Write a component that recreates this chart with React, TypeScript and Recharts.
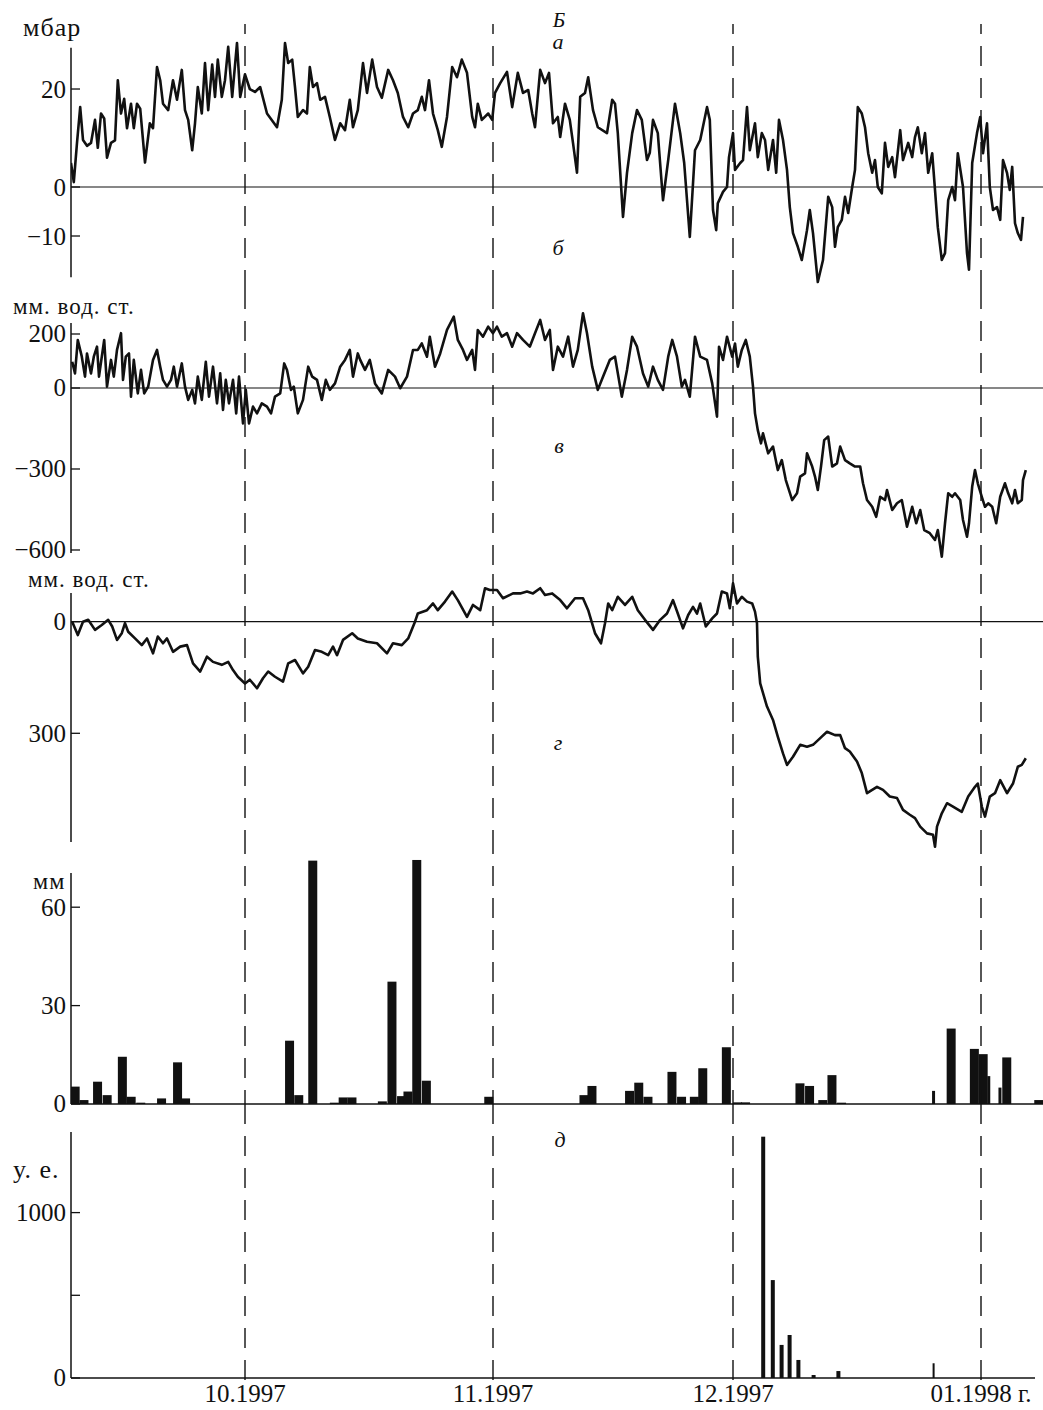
import React from "react";
import { LineChart, Line, BarChart, Bar, XAxis, YAxis, ReferenceLine } from "recharts";

// time axis: days from 1 Oct 1997
const X_MIN = -21.75;
const X_MAX = 99.75;
const monthTicks = [0, 31, 61, 92];
const monthLabels = ["10.1997", "11.1997", "12.1997", "01.1998 г."];

// а — atmospheric pressure, mbar
const pressure: [number, number][] = [
  [-21.75, 4.9], [-21.4, 1], [-21, 9], [-20.6, 16.3], [-20.25, 9.6], [-19.75, 8.4], [-19.25, 9], [-18.75, 13.7], [-18.4, 8], [-18, 15],
  [-17.6, 14], [-17.25, 6], [-16.75, 9], [-16.25, 9.5], [-15.9, 21.8], [-15.5, 15], [-15.1, 18], [-14.75, 12], [-14.25, 17], [-13.9, 12],
  [-13.5, 17], [-13.1, 16], [-12.5, 5], [-11.9, 13], [-11.5, 12], [-11, 24.5], [-10.6, 21.8], [-10.25, 17], [-9.6, 15.7], [-9, 21.8],
  [-8.5, 17.8], [-7.9, 23.9], [-7.5, 15.7], [-7.1, 13.7], [-6.6, 7.5], [-6.25, 13], [-5.9, 20.4], [-5.4, 15], [-5, 25.3], [-4.6, 15.7],
  [-4.1, 25], [-3.75, 18.4], [-3.4, 26], [-2.9, 18.4], [-2.5, 21.8], [-2.1, 28.6], [-1.6, 18.4], [-1, 29.4], [-0.6, 18.4], [0, 23],
  [0.6, 20], [1.25, 19.4], [1.9, 20.4], [2.75, 15], [4, 12.2], [4.6, 17.8], [5, 29.4], [5.4, 25.3], [5.9, 26], [6.25, 20.4],
  [6.6, 14.3], [7.25, 15.7], [7.75, 15], [8.1, 24.5], [8.5, 20.4], [9, 21.2], [9.4, 17.8], [10, 18.4], [10.6, 14.3], [11.25, 9.6],
  [11.9, 13], [12.5, 11.6], [13.1, 17.8], [13.5, 12.2], [14.1, 15.7], [14.75, 25.3], [15.25, 19.2], [15.9, 26], [16.5, 20.4], [17.1, 18.2],
  [17.9, 23.9], [18.5, 21.8], [19.1, 19.2], [19.75, 14.3], [20.4, 12.2], [21, 15], [21.6, 15.7], [22.1, 18.4], [22.5, 15.7], [23, 21.8],
  [23.5, 15], [24.1, 11.6], [24.6, 8.2], [25.25, 14.3], [25.9, 24.5], [26.5, 22.4], [27.1, 26], [27.75, 23.3], [28.4, 14.3], [28.75, 12.2],
  [29.1, 17], [29.6, 13.7], [30.4, 15], [30.9, 13.7], [31.25, 19.2], [31.9, 21.2], [32.75, 23.5], [33.4, 16.3], [34.1, 23.3], [34.75, 19.2],
  [35.4, 19.8], [35.9, 15], [36.25, 12.2], [36.9, 23.9], [37.5, 21.2], [38, 23.3], [38.5, 13], [39.1, 14.3], [39.4, 10.2], [40, 17],
  [40.6, 13.7], [41, 9], [41.5, 2.9], [41.9, 18.4], [42.5, 19.2], [42.9, 22.4], [43.5, 15.7], [44.1, 12.2], [45.25, 11], [45.9, 17.8],
  [46.25, 17], [46.6, 11], [47.25, -6.1], [47.75, 2.9], [48.4, 11], [49, 15.7], [49.6, 13.7], [50.25, 5.5], [50.6, 7], [51, 13.7],
  [51.6, 11], [52.25, -2.7], [52.9, 5.5], [53.75, 17], [54.4, 11], [54.9, 4.9], [55.6, -10.2], [56.25, 7.5], [56.9, 9.6], [57.75, 16.3],
  [58.1, 13.7], [58.5, -4.7], [58.9, -8.8], [59.1, -3.3], [59.75, -1], [60.25, 0], [60.5, 6.1], [61, 11], [61.25, 3.5], [61.9, 4.9],
  [62.25, 5.5], [62.75, 16.3], [63.1, 7.5], [63.75, 13], [64.1, 6.1], [64.6, 11], [65, 9.6], [65.4, 3.5], [66, 9.6], [66.4, 2.9],
  [66.75, 13.7], [67.25, 9.6], [67.75, 3.5], [68.1, -4.1], [68.5, -9.4], [69.1, -12.2], [69.6, -14.9], [70.25, -8.8], [70.6, -4.7], [71, -9.4],
  [71.6, -19.4], [72.25, -14.9], [72.9, -2], [73.4, -4.1], [73.75, -12.2], [74.1, -8.2], [74.6, -6.7], [75, -2], [75.4, -5.3], [75.9, 0],
  [76.25, 3.5], [76.6, 16.3], [77.1, 15], [77.5, 12.2], [77.9, 6.9], [78.4, 2.9], [78.75, 5.5], [79.1, 0], [79.6, -1.3], [80, 9],
  [80.4, 4.1], [80.9, 6.1], [81.25, 2], [81.9, 11.6], [82.25, 5.5], [82.9, 9], [83.4, 6.1], [83.75, 10.2], [84.1, 12.2], [84.6, 6.9],
  [85, 11], [85.4, 2.9], [85.9, 6.9], [86.25, -0.6], [86.6, -8.2], [87.1, -14.9], [87.5, -13.5], [87.9, -2.7], [88.4, 0], [88.75, -2.7],
  [89.1, 6.9], [89.75, 0], [90.25, -13.5], [90.5, -16.9], [90.9, 4.9], [91.5, 11], [91.9, 14.3], [92.25, 6.9], [92.75, 13], [93.1, 0],
  [93.5, -4.7], [94, -4.1], [94.4, -6.7], [94.75, 5.5], [95.25, 2.9], [95.6, -0.6], [95.9, 4.1], [96.25, -7.4], [96.6, -9.4], [97, -10.8],
  [97.25, -6.1],
];

// б — water level, mm w.c.
const levelB: [number, number][] = [
  [-21.6, 97], [-21.25, 54], [-20.9, 178], [-20.4, 116], [-20, 42], [-19.75, 128], [-19.25, 54], [-18.9, 116], [-18.5, 153], [-18.25, 42],
  [-17.9, 116], [-17.6, 178], [-17.25, 5], [-16.75, 104], [-16.4, 42], [-16, 141], [-15.5, 203], [-15.25, 30], [-14.9, 116], [-14.5, 128],
  [-14.25, -32], [-13.9, 104], [-13.4, -20], [-13, 67], [-12.6, -20], [-12.1, 5], [-11.5, 104], [-11, 141], [-10.6, 79], [-10.25, 30],
  [-9.75, 5], [-9.25, 30], [-8.9, 79], [-8.5, 5], [-7.9, 91], [-7.5, 5], [-7.1, -44], [-6.6, -7], [-6.25, -57], [-5.9, 42],
  [-5.4, -44], [-4.9, 97], [-4.5, -32], [-4, 79], [-3.5, -57], [-3.1, 54], [-2.75, -81], [-2.4, 30], [-2, -57], [-1.5, 30],
  [-1.1, -94], [-0.75, 42], [-0.25, -131], [0.1, -7], [0.5, -131], [1, -69], [1.5, -94], [2.1, -57], [2.75, -69], [3.25, -94],
  [3.75, -32], [4.4, -20], [4.9, 91], [5.25, 67], [5.75, -7], [6.1, 5], [6.6, -94], [7.25, -44], [7.9, 79], [8.4, 42],
  [9, 30], [9.6, -44], [10.1, 30], [10.6, -7], [11.25, 17], [11.9, 79], [12.5, 104], [13.1, 141], [13.5, 42], [14.1, 128],
  [14.4, 104], [15, 67], [15.6, 104], [16.25, 17], [17.1, -20], [17.9, 67], [18.75, 42], [19.4, -1], [20.25, 42], [21, 141],
  [21.6, 141], [22.1, 165], [22.75, 116], [23.1, 190], [23.75, 79], [24.4, 128], [25.25, 215], [26.1, 264], [26.6, 178], [27.25, 141],
  [27.75, 104], [28.4, 141], [28.75, 67], [29.1, 215], [29.75, 190], [30.4, 227], [31, 203], [31.5, 227], [32.1, 190], [32.75, 203],
  [33.4, 153], [34, 203], [34.75, 178], [35.6, 153], [36.25, 203], [36.9, 252], [37.5, 178], [38.1, 215], [38.5, 67], [39.1, 153],
  [39.75, 116], [40.4, 190], [41, 79], [41.6, 141], [42.25, 277], [42.75, 203], [43.4, 79], [44.1, -7], [44.75, 42], [45.6, 104],
  [46.25, 116], [47.1, -32], [47.75, 67], [48.4, 190], [49, 153], [49.75, 54], [50.4, 5], [51, 79], [51.6, 30], [52.25, -7],
  [52.9, 116], [53.4, 178], [54, 116], [54.6, 5], [55, 30], [55.6, -32], [56.25, 190], [56.9, 116], [57.75, 104], [58.4, 17],
  [59, -106], [59.25, 153], [59.75, 104], [60.25, 190], [60.9, 116], [61.25, 165], [61.6, 79], [62.1, 141], [62.6, 178], [63.1, 116],
  [63.5, 5], [63.75, -94], [64.1, -156], [64.5, -205], [64.75, -168], [65.4, -242], [66, -217], [66.6, -304], [67.1, -267], [67.6, -341],
  [68.4, -415], [69, -390], [69.4, -328], [70, -316], [70.25, -242], [70.9, -291], [71.25, -328], [71.6, -378], [72, -291], [72.4, -193],
  [72.9, -180], [73.4, -291], [74, -279], [74.4, -217], [75, -267], [75.6, -279], [76.25, -291], [76.9, -291], [77.25, -353], [77.75, -415],
  [78.4, -440], [78.9, -477], [79.4, -403], [80, -415], [80.25, -378], [80.9, -452], [81.5, -427], [82.1, -415], [82.75, -514], [83.4, -440],
  [83.9, -501], [84.4, -452], [84.9, -526], [85.6, -538], [86.25, -563], [86.6, -526], [87.1, -625], [87.5, -501], [87.9, -390], [88.4, -403],
  [88.75, -390], [89.4, -415], [89.75, -489], [90.25, -551], [90.5, -501], [90.9, -365], [91.25, -304], [91.6, -353], [92.1, -403], [92.5, -440],
  [92.9, -427], [93.4, -440], [93.9, -501], [94.4, -403], [95, -353], [95.4, -390], [95.9, -427], [96.25, -378], [96.6, -427], [97.1, -415],
  [97.25, -341], [97.6, -304],
];

// в — water level, mm w.c. (axis drawn downward)
const levelC: [number, number][] = [
  [-21.6, 0], [-20.9, 36], [-20.25, 0], [-19.6, -5], [-18.75, 22], [-17.9, 9], [-17.1, -5], [-16.6, 13], [-16, 49], [-15.4, 31],
  [-15, 4], [-14.6, 27], [-13.75, 45], [-12.9, 63], [-12.25, 45], [-11.5, 85], [-10.9, 40], [-10.25, 58], [-9.75, 45], [-9, 81],
  [-8.1, 67], [-7.25, 63], [-6.5, 112], [-5.6, 134], [-4.75, 94], [-4, 108], [-2.9, 116], [-2.1, 108], [-1.5, 130], [-0.9, 148],
  [0, 166], [0.6, 156], [1.5, 179], [2.25, 152], [2.9, 134], [3.75, 148], [4.75, 161], [5.4, 112], [6.25, 103], [7.25, 139],
  [7.9, 121], [8.75, 76], [9.6, 81], [10.4, 90], [11, 67], [11.5, 90], [12.25, 49], [13.4, 31], [14.1, 45], [15.25, 54],
  [16.5, 58], [17.75, 85], [18.5, 58], [19.6, 63], [20.4, 45], [21.25, 0], [21.6, -22], [22.75, -31], [23.5, -49], [24.1, -31],
  [25, -54], [25.9, -81], [26.6, -58], [27.75, -13], [28.5, -45], [29.4, -31], [30, -90], [30.6, -85], [31.5, -85], [32.25, -63],
  [33.5, -76], [34.4, -76], [35.25, -81], [36, -76], [36.9, -90], [37.5, -72], [38.4, -76], [39.4, -58], [40.25, -36], [41.25, -63],
  [42.25, -63], [42.9, -31], [43.75, 31], [44.5, 58], [45, 4], [45.4, -49], [45.9, -31], [46.6, -67], [47.5, -45], [48.4, -67],
  [49.1, -31], [50, -5], [51, 22], [51.9, -5], [52.75, -22], [53.5, -58], [54.1, -22], [54.75, 18], [55.4, -18], [56, -40],
  [56.5, -22], [56.9, -49], [57.6, 13], [58.4, -9], [59, -22], [59.6, -81], [60.25, -76], [60.6, -36], [61, -103], [61.5, -49],
  [62.1, -67], [62.75, -54], [63.4, -49], [63.75, -27], [64, 4], [64.1, 94], [64.4, 166], [65.25, 228], [66, 264], [66.6, 309],
  [67.25, 354], [67.75, 385], [68.5, 363], [69.4, 331], [70.25, 336], [71, 331], [71.9, 313], [72.75, 296], [73.75, 305], [74.4, 305],
  [75, 340], [75.6, 349], [76.5, 376], [77.1, 407], [77.75, 461], [78.4, 452], [79, 444], [79.75, 452], [80.6, 470], [81.5, 474],
  [82.25, 506], [83.1, 519], [83.75, 528], [84.4, 551], [85.25, 569], [86, 573], [86.25, 605], [86.5, 551], [87.1, 515], [87.75, 488],
  [88.5, 497], [89.6, 511], [90.4, 470], [91.25, 444], [91.6, 435], [92.1, 497], [92.5, 524], [93.1, 470], [93.75, 461], [94.4, 426],
  [95.25, 461], [96, 435], [96.6, 390], [97.1, 385], [97.6, 367],
];

// г — daily precipitation, mm
const rain: [number, number][] = [
  [-21.2, 5.3], [-20.1, 1.2], [-18.4, 6.8], [-17.2, 2.7], [-15.3, 14.4], [-14.2, 2.2], [-13, 0.4], [-10.4, 1.7], [-8.4, 12.7], [-7.4, 1.7],
  [5.6, 19.3], [6.75, 2.7], [8.5, 74.2], [11.2, 0.4], [12.3, 2], [13.4, 2], [17.2, 0.8], [18.4, 37.3], [19.6, 2.4], [20.4, 3.8],
  [21.5, 74.4], [22.7, 7.1], [30.5, 2.2], [42.4, 2.7], [43.4, 5.5], [48.1, 4], [49.25, 6.5], [50.4, 2.2], [53.4, 9.8], [54.6, 2.2],
  [56.2, 2.2], [57.25, 10.9], [60.2, 17.3], [61.6, 0.5], [62.6, 0.5], [69.4, 6.3], [70.6, 5.5], [72.25, 1.2], [73.4, 8.8], [74.6, 0.4],
  [88.3, 23], [91.2, 16.8], [92.3, 15.2], [95.25, 14.2], [99.25, 1.2],
];
const rainThin: [number, number][] = [[86.1, 4], [93, 8.5], [94.4, 5]];

// д — conventional units
const events: [number, number][] = [
  [64.8, 1459], [66, 592], [67.1, 200], [68.1, 260], [69.2, 109], [71.1, 18], [74.2, 42],
];
const eventsThin: [number, number][] = [[86.1, 89]];

const W = 1043;
const M = { top: 0, right: 0, bottom: 0, left: 0 };
const FONT = '"Liberation Serif", "Times New Roman", serif';
const INK = "#111";

const toLine = (arr: [number, number][]) => arr.map(([d, v]) => ({ d, v }));
const toBars = (wide: [number, number][], thin: [number, number][]) =>
  [...wide.map(([d, v]) => ({ d, wide: v })), ...thin.map(([d, v]) => ({ d, thin: v }))].sort((a, b) => a.d - b.d);

const fmt = (v: number) => (v < 0 ? "\u2212" + Math.abs(v) : String(v));

const makeTick = (hidden: number[] = []) => (props: any) => {
  const { x, y, payload } = props;
  const v = payload.value;
  return (
    <g>
      <line x1={x + 5} x2={x + 14} y1={y} y2={y} stroke={INK} strokeWidth={1.3} />
      {!hidden.includes(v) && (
        <text x={x} y={y} textAnchor="end" dominantBaseline="central" fontFamily={FONT} fontSize={25} fill={INK}>
          {fmt(v)}
        </text>
      )}
    </g>
  );
};

const barShape = (w: number) => (props: any) => {
  const { x, y, width, height } = props;
  if (!height || height <= 0) return <g />;
  return <rect x={x + width / 2 - w / 2} y={y} width={w} height={height} fill={INK} />;
};

const monthLines = (axisId?: string, withLabels = false) =>
  monthTicks.map((m, i) => (
    <ReferenceLine
      key={m}
      x={m}
      xAxisId={axisId}
      stroke={INK}
      strokeWidth={1.4}
      strokeDasharray="20 12"
      label={
        withLabels
          ? { value: monthLabels[i], position: "bottom", offset: 4, fill: INK, fontSize: 25, fontFamily: FONT }
          : undefined
      }
    />
  ));

const axisSeg = (top: number, bottom: number, axisId?: string) => (
  <ReferenceLine
    xAxisId={axisId}
    segment={[{ x: X_MIN, y: top }, { x: X_MIN, y: bottom }]}
    stroke={INK}
    strokeWidth={1.5}
    ifOverflow="visible"
  />
);

const Txt = ({ x, y, children, italic, size, center, spacing }: any) => (
  <div
    style={{
      position: "absolute",
      left: x,
      top: y,
      transform: center ? "translate(-50%, -50%)" : "translateY(-50%)",
      fontFamily: FONT,
      fontStyle: italic ? "italic" : "normal",
      fontSize: size,
      letterSpacing: spacing || 0,
      lineHeight: 1,
      color: INK,
      whiteSpace: "nowrap",
    }}
  >
    {children}
  </div>
);

const LinePanel = ({ top, height, data, domain, ticks, reversed, axis }: any) => (
  <div style={{ position: "absolute", left: 0, top }}>
    <LineChart width={W} height={height} data={data} margin={M}>
      <XAxis type="number" dataKey="d" domain={[X_MIN, X_MAX]} allowDataOverflow hide />
      <YAxis
        type="number"
        domain={domain}
        allowDataOverflow
        reversed={reversed}
        ticks={ticks}
        interval={0}
        width={71}
        axisLine={false}
        tickLine={false}
        tickSize={0}
        tickMargin={5}
        tick={makeTick()}
      />
      <ReferenceLine y={0} stroke={INK} strokeWidth={1.2} />
      {axisSeg(axis[0], axis[1])}
      {monthLines()}
      <Line
        type="linear"
        dataKey="v"
        stroke={INK}
        strokeWidth={2.6}
        strokeLinejoin="round"
        dot={false}
        isAnimationActive={false}
      />
    </LineChart>
  </div>
);

export default function App() {
  const rainData = toBars(rain, rainThin);
  const eventData = toBars(events, eventsThin);
  return (
    <div style={{ position: "absolute", left: 0, top: 0, width: W, height: 1410, background: "#fff", overflow: "hidden" }}>
      <style>{`.recharts-surface { overflow: visible; }`}</style>
      <LinePanel top={24} height={266} data={toLine(pressure)} domain={[-21.02, 33.27]} ticks={[20, 0, -10]} axis={[28.4, -18.4]} />
      <LinePanel top={290} height={275} data={toLine(levelB)} domain={[-655.6, 362.96]} ticks={[200, 0, -300, -600]} axis={[241, -611]} />
      <LinePanel top={565} height={285} data={toLine(levelC)} domain={[-152.4, 613.7]} reversed ticks={[0, 300]} axis={[-77, 592]} />

      <div style={{ position: "absolute", left: 0, top: 850 }}>
        <BarChart width={W} height={260} data={rainData} margin={M}>
          <XAxis xAxisId="w" type="number" dataKey="d" domain={[X_MIN, X_MAX]} allowDataOverflow hide />
          <XAxis xAxisId="t" type="number" dataKey="d" domain={[X_MIN, X_MAX]} allowDataOverflow hide />
          <YAxis
            type="number"
            domain={[-1.83, 77.44]}
            allowDataOverflow
            ticks={[60, 30, 0]}
            interval={0}
            width={71}
            axisLine={false}
            tickLine={false}
            tickSize={0}
            tickMargin={5}
            tick={makeTick()}
          />
          <ReferenceLine xAxisId="w" y={0} stroke={INK} strokeWidth={1.3} />
          {axisSeg(70.4, 0, "w")}
          {monthLines("w")}
          <Bar xAxisId="w" dataKey="wide" fill={INK} shape={barShape(9)} isAnimationActive={false} />
          <Bar xAxisId="t" dataKey="thin" fill={INK} shape={barShape(3)} isAnimationActive={false} />
        </BarChart>
      </div>

      <div style={{ position: "absolute", left: 0, top: 1110 }}>
        <BarChart width={W} height={300} data={eventData} margin={{ top: 0, right: 0, bottom: 30, left: 0 }}>
          <XAxis xAxisId="w" type="number" dataKey="d" domain={[X_MIN, X_MAX]} allowDataOverflow hide />
          <XAxis xAxisId="t" type="number" dataKey="d" domain={[X_MIN, X_MAX]} allowDataOverflow hide />
          <YAxis
            type="number"
            domain={[-12.1, 1620.3]}
            allowDataOverflow
            ticks={[1000, 500, 0]}
            interval={0}
            width={71}
            axisLine={false}
            tickLine={false}
            tickSize={0}
            tickMargin={5}
            tick={makeTick([500])}
          />
          <ReferenceLine xAxisId="w" segment={[{ x: X_MIN, y: 0 }, { x: 98.75, y: 0 }]} stroke={INK} strokeWidth={1.3} />
          {axisSeg(1487, 0, "w")}
          {monthLines("w", true)}
          <Bar xAxisId="w" dataKey="wide" fill={INK} shape={barShape(4)} isAnimationActive={false} />
          <Bar xAxisId="t" dataKey="thin" fill={INK} shape={barShape(2)} isAnimationActive={false} />
        </BarChart>
      </div>

      <Txt x={559} y={20} italic size={21} center>Б</Txt>
      <Txt x={558} y={42} italic size={22} center>а</Txt>
      <Txt x={558} y={248} italic size={22} center>б</Txt>
      <Txt x={559} y={446} italic size={22} center>в</Txt>
      <Txt x={558} y={743} italic size={22} center>г</Txt>
      <Txt x={560} y={1140} italic size={22} center>д</Txt>

      <Txt x={23} y={28} size={26} spacing={1}>мбар</Txt>
      <Txt x={13} y={306} size={23} spacing={1}>мм. вод. ст.</Txt>
      <Txt x={28} y={579} size={23} spacing={1}>мм. вод. ст.</Txt>
      <Txt x={33} y={881} size={24} spacing={1}>мм</Txt>
      <Txt x={13} y={1170} size={26} spacing={1}>у. е.</Txt>
    </div>
  );
}
